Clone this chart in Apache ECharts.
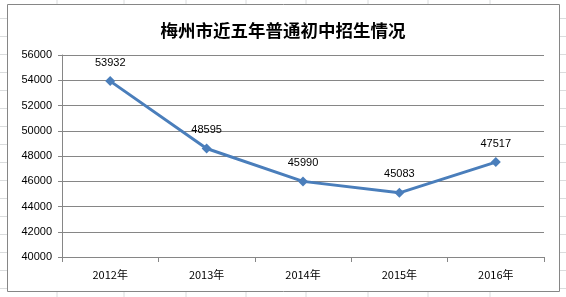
<!DOCTYPE html>
<html><head><meta charset="utf-8">
<script src="https://cdn.jsdelivr.net/npm/echarts@6/dist/echarts.min.js"></script>
<style>html,body{margin:0;padding:0;background:#fff}#c{width:566px;height:297px}</style>
</head><body><div id="c"></div>
<script>
const categories = ['2012年','2013年','2014年','2015年','2016年'];
const enrollment = [53932, 48595, 45990, 45083, 47517];
const titleText = '梅州市近五年普通初中招生情况';

const chart = echarts.init(document.getElementById('c'), null, {renderer:'canvas'});
const bgLines = [];
[57,124,186,246,306,368,428,490].forEach(x=>bgLines.push({type:'line',shape:{x1:x,y1:0,x2:x,y2:297},style:{stroke:'#dadcdd',lineWidth:1},z:-10}));
for(let y=18;y<297;y+=18) bgLines.push({type:'line',shape:{x1:0,y1:y+0.5,x2:566,y2:y+0.5},style:{stroke:'#dadcdd',lineWidth:1},z:-10});
chart.setOption({
  animation:false,
  backgroundColor:'#fff',
  title:{text:titleText,left:278,textAlign:'center',top:17,textStyle:{fontFamily:'Noto Sans CJK SC',fontSize:17.5,fontWeight:'bold',color:'#000'}},
  grid:{left:62,right:22,top:55,bottom:40},
  xAxis:{type:'category',data:categories,boundaryGap:true,
    axisLine:{lineStyle:{color:'#868686'}},
    axisTick:{show:true,length:5,lineStyle:{color:'#868686'}},
    axisLabel:{color:'#000',fontSize:11,margin:12,fontFamily:'Noto Sans CJK SC'},
    splitLine:{show:false}},
  yAxis:{type:'value',min:40000,max:56000,interval:2000,
    axisLine:{show:true,lineStyle:{color:'#868686'}},
    axisTick:{show:true,length:4,lineStyle:{color:'#868686'}},
    axisLabel:{color:'#000',fontSize:11,margin:10,fontFamily:'Liberation Sans',formatter:v=>String(v)},
    splitLine:{lineStyle:{color:'#868686',width:1}}},
  series:[{type:'line',data:enrollment,symbol:'diamond',symbolSize:10,
    lineStyle:{color:'#4a7ebb',width:3},itemStyle:{color:'#4a7ebb'},
    label:{show:true,position:'top',distance:8,color:'#000',fontSize:11,fontFamily:'Liberation Sans'}}],
  graphic:bgLines.concat([{type:'rect',shape:{x:7.5,y:4.5,width:552,height:287},style:{fill:'#fff',stroke:'#868686',lineWidth:1},z:-5}])
});
</script></body></html>
